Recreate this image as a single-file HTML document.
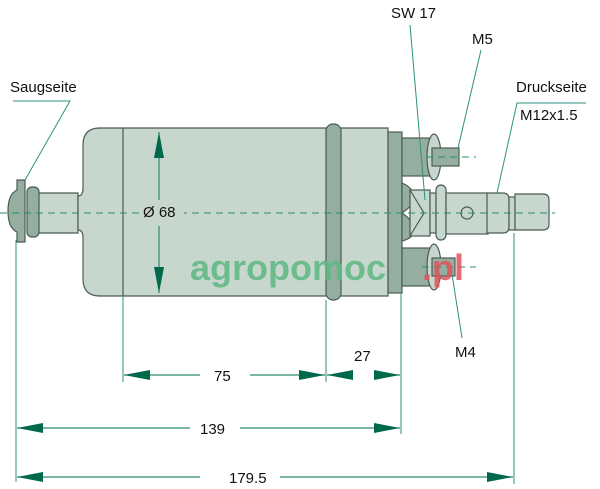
<!DOCTYPE html>
<html><head><style>
html,body{margin:0;padding:0;background:#fff;width:600px;height:489px;overflow:hidden}
svg{display:block}
text{font-family:"Liberation Sans",sans-serif;font-size:15px;fill:#111}
</style></head><body>
<svg width="600" height="489" viewBox="0 0 600 489">
<defs>
<marker id="a" viewBox="0 0 26 10" refX="26" refY="5" markerWidth="26" markerHeight="10" markerUnits="userSpaceOnUse" orient="auto"><path d="M0,0 L26,5 L0,10 Z" fill="#00694c"/></marker>
</defs>
<g stroke="#4a5a54" stroke-width="1.2">
<!-- nozzle left -->
<path d="M78,193 L38,193 L38,233 L78,233 Z" fill="#c8d7ce"/>
<rect x="27" y="187" width="12" height="50" rx="5" fill="#94ae9f"/>
<path d="M17,180 L25,180 L25,242 L17,242 L17,232 Q8,228 8,211 Q8,194 17,190 Z" fill="#94ae9f"/>
<!-- body -->
<path d="M100,128 L388,128 L388,296 L100,296 Q83,296 83,279 L83,238 Q83,230 78,230 L78,196 Q83,196 83,188 L83,145 Q83,128 100,128 Z" fill="#c8d7ce"/>
<line x1="123" y1="128" x2="123" y2="296"/>
<rect x="326" y="124" width="15" height="176" rx="7" fill="#94ae9f"/>
<rect x="388" y="132" width="14" height="161" fill="#94ae9f"/>
<!-- upper boss -->
<rect x="402" y="138" width="28" height="38" fill="#94ae9f"/>
<ellipse cx="434" cy="157" rx="7" ry="23" fill="#c8d7ce"/>
<rect x="432" y="148" width="27" height="18" fill="#94ae9f"/>
<!-- lower boss -->
<rect x="402" y="248" width="28" height="38" fill="#94ae9f"/>
<ellipse cx="434" cy="267" rx="7" ry="23" fill="#c8d7ce"/>
<rect x="432" y="258" width="23" height="18" fill="#94ae9f"/>
<!-- center -->
<path d="M402,183 Q414,188 414,198 Q414,205 402,213 Q414,221 414,230 Q414,238 402,241 Z" fill="#94ae9f"/>
<rect x="410" y="190" width="20" height="46" fill="#c8d7ce"/>
<path d="M410,190 L424,213 L410,236" fill="none"/>
<rect x="430" y="193" width="6" height="40" fill="#c8d7ce"/>
<rect x="436" y="185" width="10" height="55" rx="5" fill="#c8d7ce"/>
<rect x="446" y="193" width="42" height="41" fill="#c8d7ce"/>
<path d="M487,193 L503,193 Q509,193 509,199 L509,227 Q509,233 503,233 L487,233 Z" fill="#c8d7ce"/>
<rect x="509" y="197" width="6" height="33" fill="#c8d7ce"/>
<path d="M515,194 L543,194 Q549,194 549,200 L549,224 Q549,230 543,230 L515,230 Z" fill="#c8d7ce"/>
<circle cx="467" cy="213" r="6" fill="none"/>
</g>
<!-- center lines -->
<g stroke="#2d8a6e" stroke-width="1" stroke-dasharray="7,5" fill="none">
<line x1="0" y1="213" x2="555" y2="213"/>
<line x1="426" y1="157" x2="476" y2="157"/>
<line x1="422" y1="267" x2="476" y2="267"/>
</g>
<!-- leaders & extension lines -->
<g stroke="#2e9080" stroke-width="1" fill="none">
<polyline points="13,101 70,101 25,180"/>
<line x1="410" y1="25" x2="425" y2="200"/>
<line x1="481" y1="50" x2="458" y2="148"/>
<polyline points="586,103 517,103 497,193"/>
<line x1="462" y1="338" x2="452" y2="274"/>
<line x1="16" y1="240" x2="16" y2="482"/>
<line x1="123" y1="296" x2="123" y2="382"/>
<line x1="326" y1="300" x2="326" y2="382"/>
<line x1="401" y1="293" x2="401" y2="434"/>
<line x1="514" y1="233" x2="514" y2="484"/>
</g>
<!-- dimensions -->
<g stroke="#2d8a6e" stroke-width="1.2" fill="none">
<line x1="159" y1="200" x2="159" y2="132" marker-end="url(#a)"/>
<line x1="159" y1="226" x2="159" y2="293" marker-end="url(#a)"/>
<line x1="200" y1="375" x2="124" y2="375" marker-end="url(#a)"/>
<line x1="250" y1="375" x2="325" y2="375" marker-end="url(#a)"/>
<line x1="353" y1="375" x2="327" y2="375" marker-end="url(#a)"/>
<line x1="374" y1="375" x2="400" y2="375" marker-end="url(#a)"/>
<line x1="190" y1="428" x2="17" y2="428" marker-end="url(#a)"/>
<line x1="240" y1="428" x2="400" y2="428" marker-end="url(#a)"/>
<line x1="200" y1="477" x2="17" y2="477" marker-end="url(#a)"/>
<line x1="280" y1="477" x2="513" y2="477" marker-end="url(#a)"/>
</g>
<rect x="140" y="203" width="44" height="17" fill="#c8d7ce"/>
<text x="143" y="217">Ø 68</text>
<text x="214" y="381">75</text>
<text x="354" y="361">27</text>
<text x="200" y="434">139</text>
<text x="229" y="483">179.5</text>
<text x="10" y="92">Saugseite</text>
<text x="391" y="18">SW 17</text>
<text x="472" y="44">M5</text>
<text x="516" y="92">Druckseite</text>
<text x="520" y="120">M12x1.5</text>
<text x="455" y="357">M4</text>
<text x="190" y="280" style="font-size:36px;font-weight:bold;fill:#5cb882;opacity:0.85">agropomoc</text>
<text x="422" y="280" style="font-size:36px;font-weight:bold;fill:#e0535e;opacity:0.85">.pl</text>
</svg>
</body></html>
